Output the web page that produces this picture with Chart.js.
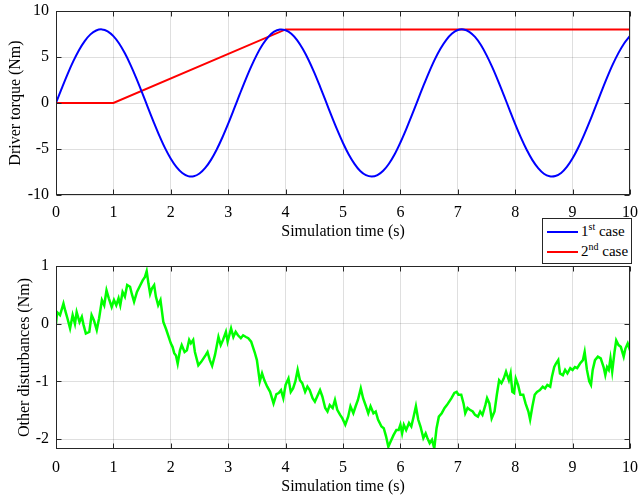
<!DOCTYPE html>
<html>
<head>
<meta charset="utf-8">
<script src="https://cdn.jsdelivr.net/npm/chart.js@4.4.1/dist/chart.umd.min.js"></script>
<style>
  html, body { margin:0; padding:0; background:#fff; }
  body { width:639px; height:497px; position:relative; overflow:hidden; font-family:'Liberation Serif','Times New Roman',serif; }
  .pane { position:absolute; left:0; width:639px; }
  #top-pane { top:0; height:245px; }
  #bot-pane { top:245px; height:252px; }
  .legend { position:absolute; left:542px; top:218px; width:88px; height:44px; border:1px solid #262626; background:#fff; font-size:15px; color:#000; }
  .legend .row { position:absolute; left:0; height:20px; line-height:20px; white-space:nowrap; }
  .legend .swatch { position:absolute; left:4px; top:10px; width:31px; height:2px; }
  .legend .lbl { position:absolute; left:38px; top:0; }
  .legend sup { font-size:10px; vertical-align:6px; line-height:0; }
</style>
</head>
<body>
<div class="pane" id="top-pane"><canvas id="chart-torque"></canvas></div>
<div class="pane" id="bot-pane"><canvas id="chart-dist"></canvas></div>
<div class="legend">
  <div class="row" style="top:2px"><span class="swatch" style="background:#0000ff"></span><span class="lbl">1<sup>st</sup> case</span></div>
  <div class="row" style="top:22px"><span class="swatch" style="background:#ff0000"></span><span class="lbl">2<sup>nd</sup> case</span></div>
</div>
<script>
// time axis ticks (s)
const timeTicks = [0,1,2,3,4,5,6,7,8,9,10];
const torqueTicks = [-10,-5,0,5,10];
const distTicks = [-2,-1,0,1];

// 1st case: driver torque sampled every 0.1 s
const case1Time = [0,0.1,0.2,0.3,0.4,0.5,0.6,0.7,0.8,0.9,1,1.1,1.2,1.3,1.4,1.5,1.6,1.7,1.8,1.9,2,2.1,2.2,2.3,2.4,2.5,2.6,2.7,2.8,2.9,3,
  3.1,3.2,3.3,3.4,3.5,3.6,3.7,3.8,3.9,4,4.1,4.2,4.3,4.4,4.5,4.6,4.7,4.8,4.9,5,5.1,5.2,5.3,5.4,5.5,5.6,5.7,5.8,5.9,6,
  6.1,6.2,6.3,6.4,6.5,6.6,6.7,6.8,6.9,7,7.1,7.2,7.3,7.4,7.5,7.6,7.7,7.8,7.9,8,8.1,8.2,8.3,8.4,8.5,8.6,8.7,8.8,8.9,9,
  9.1,9.2,9.3,9.4,9.5,9.6,9.7,9.8,9.9,10];
const case1Torque = [0,1.59,3.12,4.52,5.74,6.73,7.46,7.88,8.00,7.79,7.27,6.47,5.40,4.12,2.68,1.13,-0.47,-2.04,-3.54,-4.90,-6.05,
  -6.97,-7.61,-7.95,-7.97,-7.67,-7.06,-6.18,-5.05,-3.72,-2.24,-0.67,0.93,2.49,3.95,5.26,6.35,7.19,7.75,7.99,7.91,
  7.53,6.84,5.87,4.68,3.30,1.78,0.20,-1.40,-2.93,-4.35,-5.60,-6.62,-7.40,-7.85,-8.00,-7.84,-7.37,-6.60,-5.57,-4.29,
  -2.86,-1.33,0.27,1.85,3.36,4.74,5.92,6.87,7.55,7.93,7.99,7.74,7.18,6.33,5.20,3.89,2.43,0.88,-0.72,-2.30,
  -3.77,-5.09,-6.21,-7.08,-7.69,-7.97,-7.94,-7.60,-6.94,-6.01,-4.84,-3.47,-1.98,-0.39,1.20,2.75,4.19,5.45,6.50,7.30];

// 2nd case: hold, ramp, saturate
const case2Time = [0,1,4,10];
const case2Torque = [0,0,8,8];

// other disturbances (Nm)
const distTime = [0,0.02,0.07,0.13,0.16,0.2,0.245,0.29,0.33,0.36,0.41,0.45,0.48,0.52,0.58,0.62,0.66,0.71,0.75,0.8,
  0.84,0.88,0.92,0.97,1.01,1.05,1.09,1.12,1.16,1.2,1.24,1.29,1.32,1.36,1.41,1.47,1.51,1.55,1.58,1.61,
  1.64,1.67,1.71,1.74,1.78,1.82,1.87,1.92,1.97,2,2.03,2.06,2.09,2.12,2.16,2.19,2.24,2.28,2.32,2.35,
  2.39,2.42,2.48,2.53,2.57,2.61,2.64,2.68,2.72,2.77,2.83,2.87,2.91,2.96,2.99,3.05,3.09,3.13,3.17,3.22,
  3.26,3.31,3.35,3.4,3.46,3.5,3.55,3.59,3.63,3.68,3.73,3.79,3.84,3.88,3.92,3.96,4,4.05,4.09,4.13,
  4.17,4.21,4.25,4.29,4.34,4.38,4.42,4.47,4.51,4.55,4.6,4.64,4.69,4.73,4.77,4.82,4.86,4.9,4.95,4.99,
  5.04,5.09,5.13,5.18,5.22,5.26,5.31,5.35,5.4,5.44,5.48,5.53,5.57,5.61,5.67,5.71,5.75,5.79,5.83,5.88,
  5.93,5.97,6,6.03,6.06,6.1,6.15,6.19,6.23,6.27,6.31,6.35,6.4,6.44,6.47,6.51,6.55,6.59,6.63,6.67,
  6.72,6.77,6.81,6.85,6.89,6.94,6.98,7.01,7.06,7.1,7.13,7.17,7.21,7.26,7.3,7.35,7.39,7.43,7.48,7.51,
  7.55,7.59,7.64,7.68,7.72,7.76,7.8,7.84,7.89,7.92,7.95,7.98,8.01,8.05,8.09,8.14,8.18,8.23,8.26,8.3,
  8.34,8.38,8.43,8.48,8.52,8.56,8.61,8.64,8.68,8.71,8.75,8.78,8.83,8.87,8.91,8.96,9,9.04,9.08,9.13,
  9.18,9.21,9.25,9.29,9.32,9.35,9.39,9.44,9.49,9.54,9.57,9.6,9.63,9.66,9.69,9.73,9.76,9.8,9.84,9.89,
  9.92,9.96,10];
const distValue = [0,0.2,0.15,0.35,0.23,0.09,-0.08,0.15,0,0.2,0.03,0.12,-0.02,-0.17,-0.14,0.15,0.06,-0.11,0.09,0.41,
  0.32,0.58,0.44,0.29,0.41,0.32,0.44,0.32,0.55,0.47,0.67,0.64,0.52,0.38,0.55,0.67,0.75,0.81,0.91,0.7,
  0.52,0.61,0.67,0.47,0.32,0.41,0.03,-0.1,-0.25,-0.34,-0.4,-0.51,-0.55,-0.69,-0.46,-0.37,-0.49,-0.46,-0.28,-0.34,
  -0.28,-0.49,-0.72,-0.66,-0.6,-0.54,-0.49,-0.63,-0.73,-0.54,-0.23,-0.37,-0.28,-0.14,-0.31,-0.08,-0.23,-0.14,-0.2,-0.25,
  -0.2,-0.23,-0.25,-0.31,-0.49,-0.63,-1.0,-0.86,-0.98,-1.09,-1.18,-1.38,-1.22,-1.2,-1.15,-1.29,-1.06,-0.95,-1.18,-1.12,
  -1.0,-0.8,-0.98,-1.03,-1.18,-1.09,-1.15,-1.29,-1.35,-1.26,-1.15,-1.26,-1.46,-1.52,-1.41,-1.46,-1.32,-1.49,-1.58,-1.64,
  -1.75,-1.61,-1.43,-1.55,-1.43,-1.32,-1.12,-1.29,-1.43,-1.55,-1.43,-1.55,-1.52,-1.66,-1.78,-1.81,-1.95,-2.13,-2.04,-1.93,
  -1.84,-1.84,-1.75,-1.9,-1.75,-1.84,-1.72,-1.78,-1.61,-1.43,-1.66,-1.78,-1.98,-1.9,-1.98,-2.07,-2.01,-2.16,-1.81,-1.61,
  -1.55,-1.46,-1.41,-1.35,-1.29,-1.2,-1.18,-1.23,-1.23,-1.38,-1.55,-1.46,-1.49,-1.52,-1.58,-1.61,-1.52,-1.58,-1.41,-1.29,
  -1.38,-1.64,-1.52,-1.23,-0.98,-1.03,-0.95,-0.83,-0.98,-0.86,-1.18,-1.2,-0.95,-1.06,-1.23,-1.23,-1.38,-1.52,-1.66,-1.43,
  -1.23,-1.18,-1.15,-1.09,-1.12,-1.06,-1.09,-0.92,-0.75,-0.69,-0.63,-0.86,-0.89,-0.8,-0.86,-0.77,-0.8,-0.75,-0.77,-0.69,
  -0.63,-0.49,-0.8,-1.0,-1.06,-0.8,-0.63,-0.57,-0.6,-0.75,-0.89,-0.75,-0.8,-0.6,-0.83,-0.49,-0.29,-0.37,-0.4,-0.57,
  -0.43,-0.34,-0.46];

const pts = (xs, ys) => xs.map((x, i) => ({ x, y: ys[i] }));
const AXIS = '#262626', GRID = 'rgba(38,38,38,0.15)';
const font = { family:"'Liberation Serif','Times New Roman',serif", size:16 };

// MATLAB-style box with inward tick marks
const boxPlugin = {
  id:'box',
  afterDraw(chart) {
    const { ctx, chartArea:a, scales:{ x, y } } = chart;
    const L = Math.round(a.left)+0.5, R = Math.round(a.right)-0.5, T = Math.round(a.top)+0.5, B = Math.round(a.bottom)-0.5;
    ctx.save();
    ctx.strokeStyle = AXIS; ctx.lineWidth = 1;
    ctx.strokeRect(L, T, R-L, B-T);
    ctx.beginPath();
    x.ticks.forEach(t => { const px = Math.round(x.getPixelForValue(t.value))+0.5;
      ctx.moveTo(px, B); ctx.lineTo(px, B-5); ctx.moveTo(px, T); ctx.lineTo(px, T+5); });
    y.ticks.forEach(t => { const py = Math.round(y.getPixelForValue(t.value))+0.5;
      ctx.moveTo(L, py); ctx.lineTo(L+5, py); ctx.moveTo(R, py); ctx.lineTo(R-5, py); });
    ctx.stroke();
    ctx.restore();
  }
};

function axes(yMin, yMax, yTicks, yTitle, yTitlePad, xAxisH, xTickPad, xTitlePad) {
  return {
    x: { type:'linear', min:0, max:10,
      afterBuildTicks: s => { s.ticks = timeTicks.map(v => ({ value:v })); },
      // plot edges come from layout.padding only
      afterFit: s => { s.height = xAxisH; s.paddingLeft = 0; s.paddingRight = 0; },
      ticks:{ font, color:'#000', padding:xTickPad, maxRotation:0 },
      grid:{ color:GRID, drawTicks:false }, border:{ display:false },
      title:{ display:true, text:'Simulation time (s)', font, color:'#000', padding:{ top:0, bottom:xTitlePad } } },
    y: { min:yMin, max:yMax,
      afterBuildTicks: s => { s.ticks = yTicks.map(v => ({ value:v })); },
      afterFit: s => { s.width = 56; s.paddingTop = 0; s.paddingBottom = 0; },
      ticks:{ font, color:'#000', padding:7 },
      grid:{ color:GRID, drawTicks:false }, border:{ display:false },
      title:{ display:true, text:yTitle, font, color:'#000', padding:{ top:yTitlePad, bottom:0 } } }
  };
}

const common = { responsive:true, maintainAspectRatio:false, animation:false,
  elements:{ point:{ radius:0 } },
  plugins:{ legend:{ display:false }, tooltip:{ enabled:false } } };

new Chart(document.getElementById('chart-torque'), {
  type:'line',
  data:{ datasets:[
    { label:'1st case', data:pts(case1Time, case1Torque), borderColor:'#0000ff', borderWidth:2, tension:0.35 },
    { label:'2nd case', data:pts(case2Time, case2Torque), borderColor:'#ff0000', borderWidth:2, tension:0 }
  ]},
  options:{ ...common, layout:{ padding:{ top:11, right:9, left:0, bottom:0 } },
    scales: axes(-10, 10, torqueTicks, 'Driver torque (Nm)', 6, 50, 8, 4) },
  plugins:[boxPlugin]
});

new Chart(document.getElementById('chart-dist'), {
  type:'line',
  data:{ datasets:[
    { label:'Other disturbances', data:pts(distTime, distValue), borderColor:'#00ff00', borderWidth:2.5, tension:0 }
  ]},
  options:{ ...common, layout:{ padding:{ top:21, right:9, left:0, bottom:0 } },
    scales: axes(-2.17, 1, distTicks, 'Other disturbances (Nm)', 15, 48, 9, 1) },
  plugins:[boxPlugin]
});
</script>
</body>
</html>
